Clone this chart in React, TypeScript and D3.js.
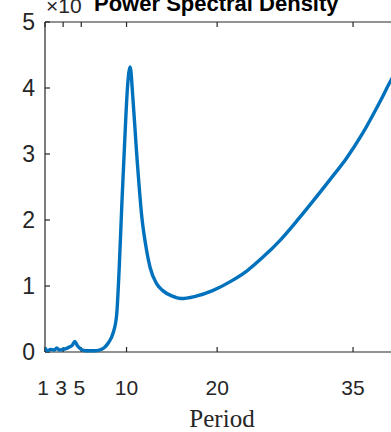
import React, { useEffect, useRef } from "react";
import * as d3 from "d3";

// period (x) and power spectral density (y, x10^n)
const periods = [
  1, 1.3, 1.6, 2, 2.3, 2.6, 3, 3.3, 3.6, 4, 4.3, 4.6, 5, 5.5, 6, 6.5, 7, 7.5,
  8, 8.5, 8.9, 9.2, 9.5, 9.8, 10.1, 10.4, 10.7, 11.1, 11.7, 12.2, 12.6, 13.3,
  14, 15, 16, 17.5, 19.5, 21.5, 23.3, 25, 27, 29, 30.6, 32.5, 34.3, 36, 38,
  39.2, 40,
];
const psd = [
  0.06, 0.02, 0.04, 0.03, 0.06, 0.03, 0.04, 0.05, 0.07, 0.1, 0.16, 0.09, 0.04,
  0.02, 0.02, 0.02, 0.03, 0.06, 0.14, 0.28, 0.55, 1.3, 2.3, 3.2, 4.0, 4.32,
  3.85, 3.04, 2.03, 1.55, 1.28, 1.04, 0.93, 0.85, 0.81, 0.84, 0.93, 1.07, 1.23,
  1.43, 1.7, 2.02, 2.29, 2.62, 2.94, 3.3, 3.8, 4.12, 4.3,
];
const xTicks = [1, 3, 5, 10, 20, 35];
const yTicks = [0, 1, 2, 3, 4, 5];

function PsdChart({ width, height }) {
  const chartRef = useRef();

  useEffect(() => {
    drawChart();
  }, []);

  const drawChart = () => {
    const svg = d3.select(chartRef.current);
    svg.selectAll("*").remove();

    const left = 45;
    const top = 22;
    const bottom = 352;

    const xScale = d3.scaleLinear().domain([1, 40]).range([left, left + 39 * 9.06]);
    const yScale = d3.scaleLinear().domain([0, 5]).range([bottom, top]);
    const right = xScale(40);
    const axisColor = "#262626";
    const labelFont = "'Liberation Sans', Arial, sans-serif";

    svg
      .append("defs")
      .append("clipPath")
      .attr("id", "plot-clip")
      .append("rect")
      .attr("x", left)
      .attr("y", top - 2)
      .attr("width", right - left)
      .attr("height", bottom - top + 4);

    // box lines (right side falls outside the picture)
    const box = svg.append("g").attr("stroke", axisColor).attr("stroke-width", 1.2);
    box.append("line").attr("x1", left).attr("x2", right).attr("y1", bottom).attr("y2", bottom);
    box.append("line").attr("x1", left).attr("x2", right).attr("y1", top).attr("y2", top);
    box.append("line").attr("x1", left).attr("x2", left).attr("y1", top).attr("y2", bottom);

    // inward ticks
    xTicks.forEach((t) => {
      box.append("line").attr("x1", xScale(t)).attr("x2", xScale(t)).attr("y1", bottom).attr("y2", bottom - 5);
      box.append("line").attr("x1", xScale(t)).attr("x2", xScale(t)).attr("y1", top).attr("y2", top + 5);
    });
    yTicks.forEach((t) => {
      box.append("line").attr("x1", left).attr("x2", left + 5).attr("y1", yScale(t)).attr("y2", yScale(t));
    });

    svg
      .append("g")
      .selectAll("text")
      .data(yTicks)
      .join("text")
      .attr("x", 35)
      .attr("y", (d) => yScale(d))
      .attr("dy", "0.36em")
      .attr("text-anchor", "end")
      .attr("font-family", labelFont)
      .attr("font-size", 23)
      .attr("fill", axisColor)
      .text((d) => d);

    svg
      .append("g")
      .selectAll("text")
      .data(xTicks)
      .join("text")
      .attr("x", (d) => xScale(d) - (d < 10 ? 2 : 0))
      .attr("y", 395)
      .attr("text-anchor", "middle")
      .attr("font-family", labelFont)
      .attr("font-size", 21)
      .attr("fill", axisColor)
      .text((d) => d);

    // exponent marker, top cut off like the original
    svg
      .append("text")
      .attr("x", 46)
      .attr("y", 13)
      .attr("font-family", labelFont)
      .attr("font-size", 21)
      .attr("fill", axisColor)
      .text("×10");

    svg
      .append("text")
      .attr("x", 94)
      .attr("y", 11)
      .attr("font-family", labelFont)
      .attr("font-weight", "bold")
      .attr("font-size", 22)
      .attr("fill", "#000")
      .text("Power Spectral Density");

    svg
      .append("text")
      .attr("x", 222)
      .attr("y", 427)
      .attr("text-anchor", "middle")
      .attr("font-family", "'Liberation Serif', 'Times New Roman', serif")
      .attr("font-size", 25)
      .attr("fill", axisColor)
      .text("Period");

    const line = d3
      .line()
      .x((d) => xScale(d[0]))
      .y((d) => yScale(d[1]))
      .curve(d3.curveMonotoneX);

    svg
      .append("path")
      .datum(periods.map((p, i) => [p, psd[i]]))
      .attr("clip-path", "url(#plot-clip)")
      .attr("d", line)
      .attr("fill", "none")
      .attr("stroke", "#0072BD")
      .attr("stroke-width", 3.4)
      .attr("stroke-linejoin", "round");
  };

  return (
    <svg
      ref={chartRef}
      width={width}
      height={height}
      style={{ position: "absolute", left: 0, top: 0, background: "#fff" }}
    ></svg>
  );
}

export default function App() {
  return <PsdChart width={391} height={432} />;
}
